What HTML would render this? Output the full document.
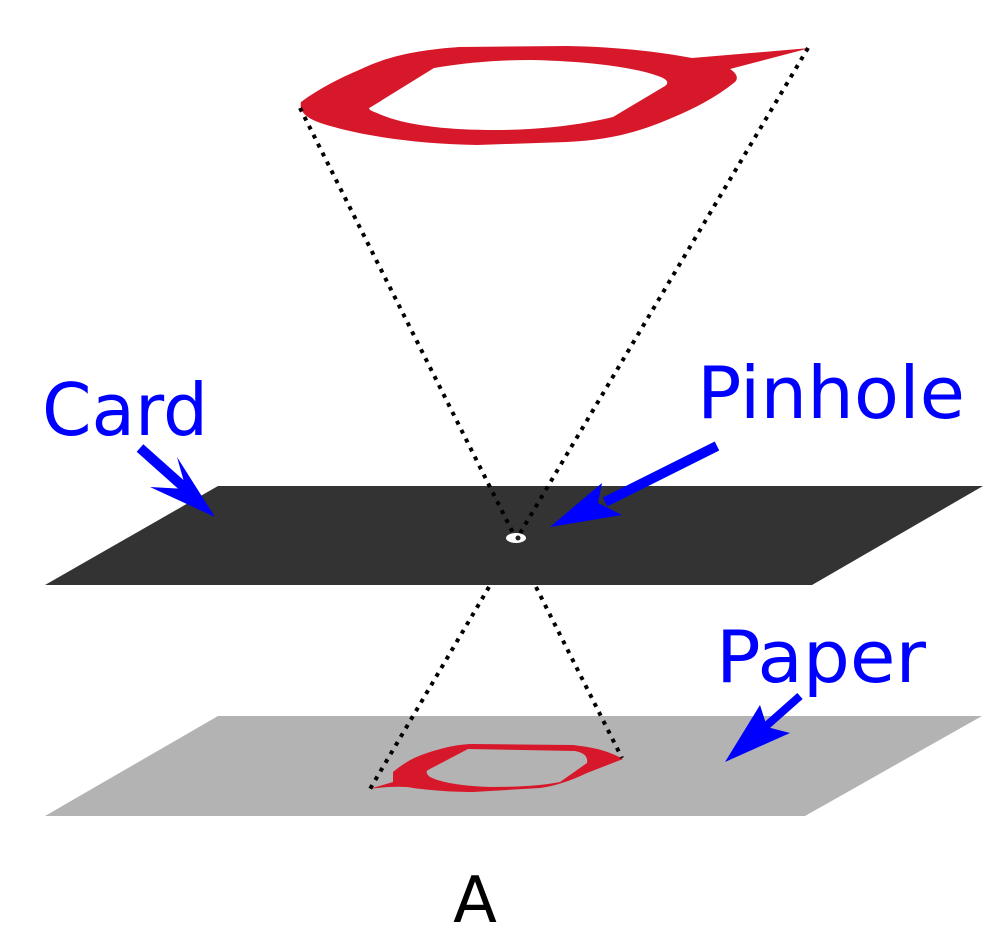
<!DOCTYPE html>
<html><head><meta charset="utf-8"><style>html,body{margin:0;padding:0;background:#fff}svg{display:block}</style></head>
<body>
<svg width="1000" height="946" viewBox="0 0 1000 946" xmlns="http://www.w3.org/2000/svg">
<!-- card -->
<polygon points="45,585 218,486 983,486 812,585" fill="#333333"/>
<!-- paper -->
<polygon points="45,816 218,716 982,716 805,816" fill="#b3b3b3"/>
<!-- top red shape -->
<path fill-rule="evenodd" fill="#d7182a" d="M301,102 C320,88 340,78 359,70 C390,55 420,50 459,47 L567,46 C620,47 660,52 692,58 L810,48 L730,69 C738,74 738,79 735,82 C715,98 695,108 674,117 C640,132 610,140 567,142 L477,145 C420,144 370,137 334,127 C315,122 298,116 301,102 Z M371,107 L434,68 C470,62 500,60 531,60 C580,61 630,66 658,76 C670,80 668,84 665,86 L613,117 C580,125 540,130 495,130 C440,130 400,124 377,113 C368,110 368,108 371,107 Z"/>
<!-- bottom red shape -->
<path fill-rule="evenodd" fill="#d7182a" d="M369,789 L393,782 L393,772 C405,762 415,757 427,753 C445,747 460,744 473,744 L573,745 C600,748 612,753 623,759 L587,773 C570,781 555,786 540,788 L473,792 C450,792 425,790 407,787 C390,786 378,788 369,789 Z M468,749 L575,751 C585,753 588,757 587,763 L560,782 C540,786 515,787 490,787 C460,786 440,782 430,777 C426,774 426,771 428,770 Z"/>
<!-- dotted lines -->
<g stroke="#000" stroke-width="4" stroke-dasharray="4,6" fill="none" stroke-linecap="butt">
<line x1="300" y1="108" x2="514" y2="535"/>
<line x1="808" y1="48" x2="519" y2="535"/>
<line x1="489" y1="587" x2="370" y2="789"/>
<line x1="536" y1="587" x2="622" y2="758"/>
</g>
<!-- pinhole -->
<ellipse cx="516" cy="538" rx="10" ry="5" fill="#fff"/>
<circle cx="518" cy="538" r="2.5" fill="#222"/>
<!-- arrows -->
<g fill="#0000ff" stroke="none">
<line x1="140" y1="448" x2="186" y2="489" stroke="#0000ff" stroke-width="10"/>
<polygon points="215,517 150,487 186,489 177,457"/>
<line x1="717" y1="446" x2="605" y2="502" stroke="#0000ff" stroke-width="10"/>
<polygon points="550,527 602,483 598,503 622,515"/>
<line x1="800" y1="696" x2="765" y2="727" stroke="#0000ff" stroke-width="8"/>
<polygon points="725,762 760,705 767,727 790,733"/>
</g>
<!-- labels -->
<g font-family="'DejaVu Sans', 'Liberation Sans', sans-serif" fill="#0000ff" font-size="72">
<text x="42" y="435" textLength="166" lengthAdjust="spacingAndGlyphs">Card</text>
<text x="697" y="418" textLength="268" lengthAdjust="spacingAndGlyphs">Pinhole</text>
<text x="716" y="682" textLength="210" lengthAdjust="spacingAndGlyphs">Paper</text>
</g>
<text x="475" y="922" text-anchor="middle" font-family="'DejaVu Sans', 'Liberation Sans', sans-serif" font-size="64" fill="#000">A</text>
</svg>
</body></html>
